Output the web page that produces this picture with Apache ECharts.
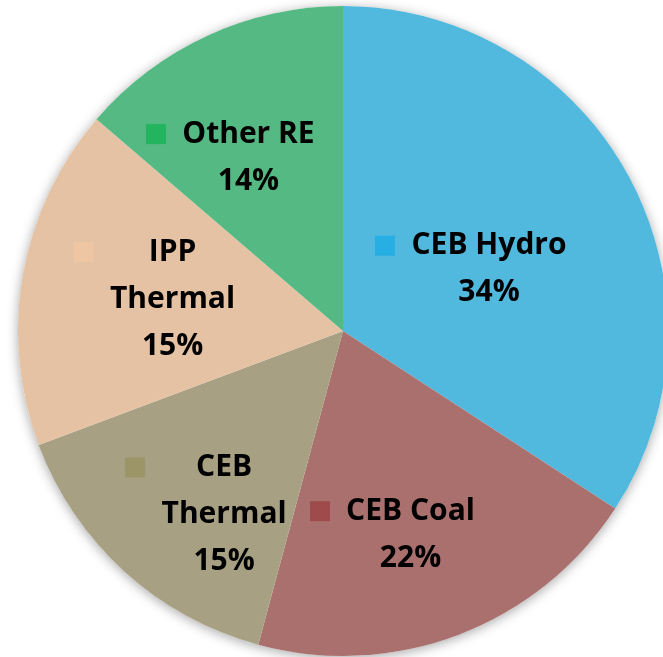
<!DOCTYPE html>
<html>
<head>
<meta charset="utf-8">
<script src="https://cdn.jsdelivr.net/npm/echarts@6/dist/echarts.min.js"></script>
<style>
  html, body { margin: 0; padding: 0; background: #fff; }
  #chart { width: 663px; height: 657px; }
</style>
</head>
<body>
<div id="chart"></div>
<script>
const names = ['CEB Hydro', 'CEB Coal', 'CEB Thermal', 'IPP Thermal', 'Other RE']
// how each name breaks over lines in the picture
const nameLines = [['CEB Hydro'], ['CEB Coal'], ['CEB', 'Thermal'], ['IPP', 'Thermal'], ['Other RE']]
// slice sizes as drawn (share of the circle)
const shares = [34.2, 20.0, 15.1, 17.0, 13.7]
// percentages printed on the chart
const percentText = ['34%', '22%', '15%', '15%', '14%']

const sliceColors = ['#51b8de', '#a9706e', '#a8a083', '#e4c2a3', '#54b982']
const keyColors = ['#27aee3', '#9f4b4b', '#9c9567', '#efc6a3', '#23b460']
// nudges from the default inside label spot (px)
const labelShift = [[-17, 17], [-9, 49], [-25, 61], [-25, -3], [-43, -23]]

const FONT_FAMILY = '"Open Sans", "Noto Sans", sans-serif'
const FONT_SIZE = 30
const LINE_H = 47
const KEY = 20 // legend key square
const GAP = 15 // key to text

const measure = (() => {
    let ctx = document.createElement('canvas').getContext('2d')
    ctx.font = 'bold ' + FONT_SIZE + 'px ' + FONT_FAMILY
    return txt => ctx.measureText(txt).width
})()

let seriesData = names.map((name, i) => {
    let lines = nameLines[i].concat([percentText[i]])
    let w = Math.ceil(Math.max(...lines.map(measure))) + 2
    let text = lines.map((l, k) => (k === 0 ? '{m|}{g|}' : '{s|}') + '{t|' + l + '}').join('\n')
    return {
        name: name,
        value: shares[i],
        itemStyle: { color: sliceColors[i] },
        label: {
            offset: labelShift[i],
            formatter: text,
            rich: {
                m: { width: KEY, height: KEY, backgroundColor: keyColors[i], lineHeight: LINE_H },
                t: {
                    width: w,
                    align: 'center',
                    fontSize: FONT_SIZE,
                    fontWeight: 'bold',
                    fontFamily: FONT_FAMILY,
                    color: '#000',
                    lineHeight: LINE_H
                }
            }
        }
    }
})

let chart = echarts.init(document.getElementById('chart'))
chart.setOption({
    backgroundColor: '#fff',
    animation: false,
    series: [
        {
            // soft shadow under the whole disc
            type: 'pie',
            silent: true,
            center: [343, 331],
            radius: [0, 325],
            label: { show: false },
            labelLine: { show: false },
            itemStyle: {
                color: '#fff',
                shadowBlur: 12,
                shadowColor: 'rgba(0, 0, 0, 0.35)',
                shadowOffsetY: 2
            },
            data: [{ value: 1 }]
        },
        {
            type: 'pie',
            center: [343, 331],
            radius: [0, 325],
            startAngle: 90,
            clockwise: true,
            avoidLabelOverlap: false,
            emphasis: { disabled: true },
            itemStyle: { borderWidth: 0 },
            label: {
                show: true,
                position: 'inside',
                color: '#000',
                rich: {
                    g: { width: GAP, lineHeight: LINE_H },
                    s: { width: KEY + GAP, lineHeight: LINE_H }
                }
            },
            labelLine: { show: false },
            data: seriesData
        }
    ]
})
</script>
</body>
</html>
